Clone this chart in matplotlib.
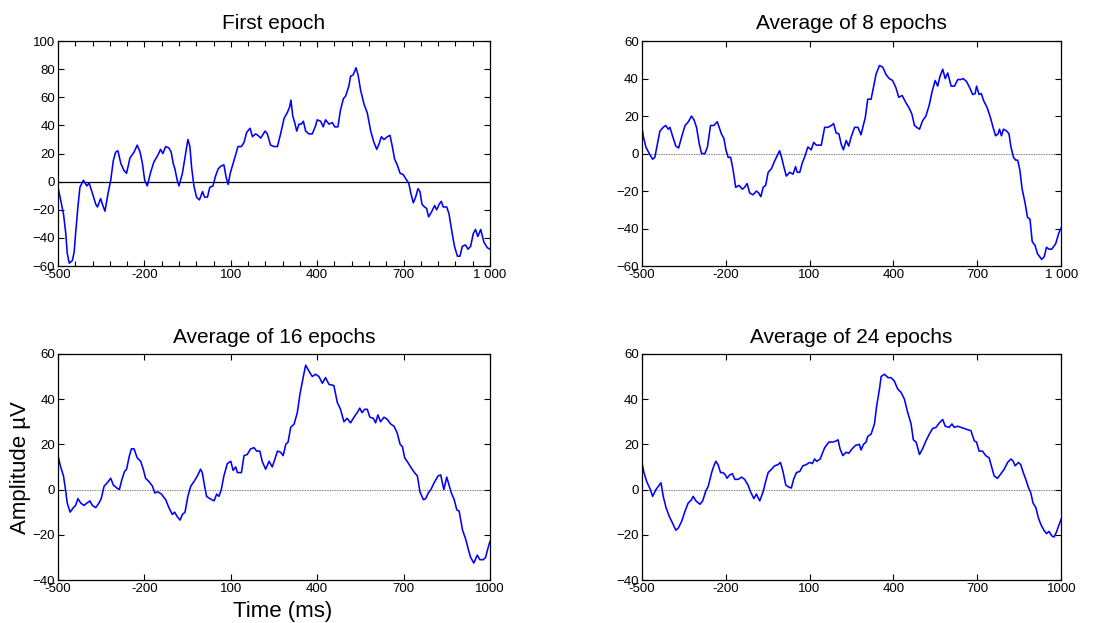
import matplotlib.pyplot as plt
import numpy as np

plt.rcParams['font.family'] = ['Liberation Sans', 'DejaVu Sans']

# First epoch (single trial), time in ms, amplitude in uV
t_first = [-500, -491, -481, -473, -468, -461, -450, -444, -439, -431, -424, -412, -400, -392,
           -381, -369, -363, -352, -346, -337, -326, -317, -308, -300, -292, -282, -271, -262,
           -250, -236, -225, -215, -207, -199, -190, -178, -167, -153, -144, -136, -126, -115,
           -107, -100, -94, -86, -80, -68, -57, -49, -42, -36, -28, -19, -9, 2, 9, 19, 27, 38,
           47, 56, 65, 76, 84, 91, 98, 111, 125, 137, 146, 155, 167, 175, 186, 194, 204, 219,
           227, 238, 250, 262, 273, 285, 296, 304, 309, 315, 322, 329, 337, 345, 352, 360, 371,
           383, 395, 400, 412, 421, 429, 441, 453, 461, 472, 481, 491, 499, 510, 516, 525, 535,
           542, 551, 563, 574, 586, 597, 607, 615, 623, 632, 644, 653, 661, 669, 678, 688, 699,
           708, 718, 725, 734, 742, 750, 757, 764, 773, 780, 787, 796, 808, 815, 824, 831, 838,
           850, 858, 869, 877, 887, 896, 904, 915, 924, 933, 942, 950, 958, 968, 979, 991, 1000]
v_first = [-4, -13, -23, -37, -51, -58, -56, -50, -37, -18, -4, 1, -3, -1,
           -8, -16, -18, -12, -16, -21, -8, 1, 15, 21, 22, 13, 8, 6,
           17, 21, 26, 21, 13, 1, -3, 7, 14, 19, 23, 20, 25, 24,
           21, 13, 9, 1, -3, 6, 20, 30, 25, 10, -3, -11, -13, -7, -11, -11, -4, -3,
           4, 9, 11, 12, 3, -2, 6, 15, 25, 25, 28, 35, 38, 32, 34, 33, 31, 36,
           34, 26, 25, 25, 34, 45, 49, 53, 58, 47, 42, 36, 41, 41, 43, 36, 34,
           34, 40, 44, 43, 39, 44, 41, 42, 39, 39, 51, 59, 61, 68, 75, 76, 81,
           76, 65, 55, 49, 36, 28, 23, 27, 32, 30, 32, 33, 25, 16, 12, 6, 5,
           2, -1, -8, -15, -11, -5, -7, -16, -18, -19, -25, -22, -17, -20, -16, -14, -18,
           -18, -23, -37, -46, -53, -53, -46, -45, -48, -46, -37, -34, -39, -34, -43, -47, -48]

# Average of 8 epochs
t_avg8 = [-500, -494, -485, -473, -461, -453, -444, -435, -423, -414, -405, -399, -389, -378,
          -368, -357, -345, -333, -322, -313, -304, -294, -286, -274, -265, -254, -242, -230,
          -223, -215, -206, -199, -191, -182, -173, -164, -152, -140, -132, -123, -114, -102,
          -90, -82, -74, -66, -57, -48, -36, -25, -15, -7, 0, 8, 17, 29, 41, 50, 56, 65, 74,
          82, 94, 106, 115, 124, 142, 154, 166, 178, 186, 195, 205, 213, 221, 231, 240, 249,
          261, 273, 284, 292, 299, 308, 320, 328, 338, 350, 362, 374, 385, 397, 409, 419, 431,
          445, 457, 466, 475, 483, 493, 504, 516, 528, 538, 549, 558, 566, 576, 585, 594, 606,
          618, 630, 641, 649, 661, 673, 683, 692, 697, 706, 714, 723, 735, 747, 756, 765, 774,
          779, 786, 793, 805, 813, 820, 829, 837, 844, 852, 860, 870, 879, 888, 896, 906, 915,
          930, 939, 947, 956, 966, 980, 992, 1000]
v_avg8 = [15, 9, 3.5, 0, -3, -2, 5, 12, 14, 15, 13, 14, 9, 4,
          3, 9, 15, 17, 20, 18, 14, 5, 0, 0, 3.5, 15, 15, 17,
          14, 10.5, 8, 2, -2, -2, -9, -18, -17, -19, -18, -16, -21, -22,
          -20, -21, -23, -18, -17, -10, -8, -4, -1, 1.5, -2, -7, -12, -10, -11, -7, -10, -10, -5,
          -2, 3.5, 2, 6, 4.5, 4.5, 14, 14, 15, 16, 11, 10.5, 5, 2, 7, 4, 9,
          14, 14, 10, 15, 19, 29, 29, 35, 42.5, 47, 46, 42, 40, 39, 35, 30, 31,
          27, 24, 21, 15, 14, 13, 17.5, 20, 26, 33, 39, 36, 41, 45, 40, 43, 36,
          36, 39.5, 39.5, 40, 38.5, 35, 31.5, 32, 36, 31.5, 32, 28, 24.5, 19, 14, 9.5, 10.5,
          13, 9.5, 13, 12, 10.5, 3.5, -2, -3.5, -3.5, -9, -19, -26, -34, -35, -47, -49, -53.5,
          -56.5, -55, -50, -51, -51, -48, -42, -39.5]

# Average of 16 epochs
t_avg16 = [-500, -491, -481, -473, -468, -458, -447, -439, -431, -421, -410, -400, -389, -381,
           -369, -358, -350, -340, -329, -317, -308, -296, -287, -278, -269, -262, -252, -245,
           -236, -225, -213, -204, -196, -184, -172, -164, -153, -141, -126, -115, -103, -95,
           -86, -76, -68, -59, -49, -39, -28, -16, -5, 1, 9, 16, 27, 42, 51, 59, 67, 76, 88,
           100, 108, 117, 123, 137, 146, 157, 169, 181, 190, 201, 209, 221, 233, 244, 252, 262,
           273, 282, 291, 299, 308, 320, 331, 340, 352, 360, 371, 383, 394, 406, 418, 429, 441,
           458, 470, 481, 493, 504, 516, 528, 539, 548, 556, 565, 574, 583, 595, 603, 611, 620,
           632, 644, 655, 667, 678, 688, 696, 704, 715, 727, 738, 748, 757, 769, 777, 786, 795,
           806, 820, 829, 835, 840, 850, 858, 866, 876, 885, 893, 905, 916, 925, 933, 944, 956,
           965, 977, 985, 993, 1000]
v_avg16 = [15, 10, 6, -1, -6, -10, -8, -7, -4, -6, -7, -6, -5, -7,
           -8, -6, -4, 1.5, 3, 5, 2, 0.7, 0, 4.5, 8, 9, 15, 18,
           18, 14, 12.5, 9, 5, 3.5, 1.5, -1.5, -1, -2, -4.5, -8, -11, -10,
           -12, -13.5, -11, -10, -3, 1.5, 3.5, 6, 9, 7.5, 1.5, -3, -4, -5, -2, -3, 0, 6, 11.5,
           12.5, 8.5, 10, 7.5, 7.5, 15, 15.5, 18, 18.5, 17, 17, 12.5, 9, 12.5, 10, 13, 17,
           16.5, 15, 20, 21, 27.5, 29, 34, 42, 50, 55, 52.5, 50, 51, 50, 47, 49.5, 46.5,
           46, 38.5, 35.5, 30, 31.5, 29.5, 32, 34, 36, 34, 35.5, 35.5, 32, 31.5, 29.5, 33, 30,
           32, 31, 29, 28, 25, 20, 19, 14, 12, 9.5, 7.5, 6, -1, -4.5, -4, -1.5, 0,
           3, 6, 6.5, 3, 0, 5.5, 2, -1.5, -4.5, -9, -9.5, -18, -22, -26.5, -30, -32.5, -29,
           -31, -31, -30, -26, -23]

# Average of 24 epochs
t_avg24 = [-500, -492, -482, -470, -461, -449, -437, -431, -423, -413, -401, -389, -378, -369,
           -357, -345, -334, -322, -316, -306, -292, -282, -271, -262, -250, -242, -235, -227,
           -218, -209, -201, -195, -185, -176, -167, -155, -143, -132, -120, -111, -99, -90,
           -78, -66, -57, -48, -36, -25, -13, -4, 5, 15, 27, 35, 43, 53, 65, 76, 88, 100, 110,
           118, 126, 138, 154, 169, 183, 195, 202, 209, 219, 231, 240, 252, 264, 278, 284, 293,
           302, 308, 320, 332, 340, 350, 356, 368, 380, 391, 403, 415, 427, 439, 451, 463, 471,
           481, 493, 504, 516, 528, 540, 552, 564, 576, 585, 599, 609, 617, 629, 641, 653, 665,
           677, 689, 697, 706, 718, 730, 742, 752, 760, 772, 784, 796, 808, 820, 828, 835, 847,
           855, 864, 873, 883, 891, 899, 909, 918, 927, 938, 947, 956, 966, 974, 982, 992, 1000]
v_avg24 = [12.5, 7.5, 3.5, 0.3, -3, 0, 2, 3, -3, -8, -12, -15, -18, -17,
           -14, -9.5, -6, -4.5, -3, -5, -6.5, -5, -0.7, 1.5, 7.5, 10.5, 12.5, 11,
           7.5, 7.5, 6.5, 5, 6.5, 7, 4.5, 4.5, 5.5, 4.5, 2, -1, -4, -2,
           -5, -1, 3.5, 7.5, 9, 10.5, 11, 12, 8, 2, 1, 0.7, 4.5, 7.5, 8, 10.5, 11, 12, 11.5,
           13.5, 12.5, 13.5, 18.5, 21, 21, 21.5, 22, 18, 15, 16.5, 16, 18, 19.5, 20, 17.5, 20,
           21, 23.5, 24.5, 29, 37, 44.5, 50, 51, 49.5, 49.5, 48, 44.5, 43, 40, 34, 29, 22,
           21, 15.5, 18, 21.5, 24.5, 27, 27.5, 29.5, 31, 28, 27.5, 29, 27.5, 28, 27.5, 27, 26.5,
           26, 21.5, 21, 17, 17, 15, 14, 9.5, 6, 5, 7, 9, 12, 13.5, 12.5, 10.5, 12,
           11, 7.5, 4.5, 0.7, -1.5, -6, -8, -12.5, -15.5, -18, -19.5, -18.5, -20.5, -21, -19, -15.5, -13]

titles = ['First epoch', 'Average of 8 epochs', 'Average of 16 epochs', 'Average of 24 epochs']
ylims = [(-60, 100), (-60, 60), (-40, 60), (-40, 60)]
xticks = [-500, -200, 100, 400, 700, 1000]
xlabels_top = ['-500', '-200', '100', '400', '700', '1 000']
xlabels_bottom = ['-500', '-200', '100', '400', '700', '1000']

fig = plt.figure(figsize=(11.16, 6.23), dpi=100)
boxes = [
    [0.052, 0.573, 0.387, 0.361],
    [0.575, 0.573, 0.376, 0.361],
    [0.052, 0.069, 0.387, 0.363],
    [0.575, 0.069, 0.376, 0.363],
]
series = [(t_first, v_first), (t_avg8, v_avg8), (t_avg16, v_avg16), (t_avg24, v_avg24)]

for i, (box, (t, v)) in enumerate(zip(boxes, series)):
    ax = fig.add_axes(box)
    if i == 0:
        ax.axhline(0, color='k', lw=0.9, zorder=1)
    else:
        ax.axhline(0, color='k', lw=0.6, ls=(0, (1, 1)), alpha=0.7, zorder=1)
    ax.plot(t, v, color='#0000ff', lw=1.15, zorder=2)
    ax.set_xlim(-500, 1000)
    ax.set_ylim(*ylims[i])
    ax.set_xticks(xticks)
    ax.set_xticklabels(xlabels_top if i < 2 else xlabels_bottom)
    ax.set_yticks(np.arange(ylims[i][0], ylims[i][1] + 1, 20))
    if i == 0:
        ax.set_xticks(np.arange(-500, 1001, 60), minor=True)
        ax.tick_params(which='minor', direction='in', length=3.5, top=True, bottom=True, width=0.8)
    ax.tick_params(direction='in', length=4, top=True, right=True, labelsize=9.5, pad=2, width=0.8)
    for s in ax.spines.values():
        s.set_linewidth(0.9)
    ax.set_title(titles[i], fontsize=15, pad=9 if i < 2 else 8)

fig.text(0.018, 0.25, 'Amplitude \u00b5V', rotation=90, fontsize=16, ha='center', va='center')
fig.text(0.253, 0.019, 'Time (ms)', fontsize=16, ha='center', va='center')

fig.savefig('out.png', dpi=100)
